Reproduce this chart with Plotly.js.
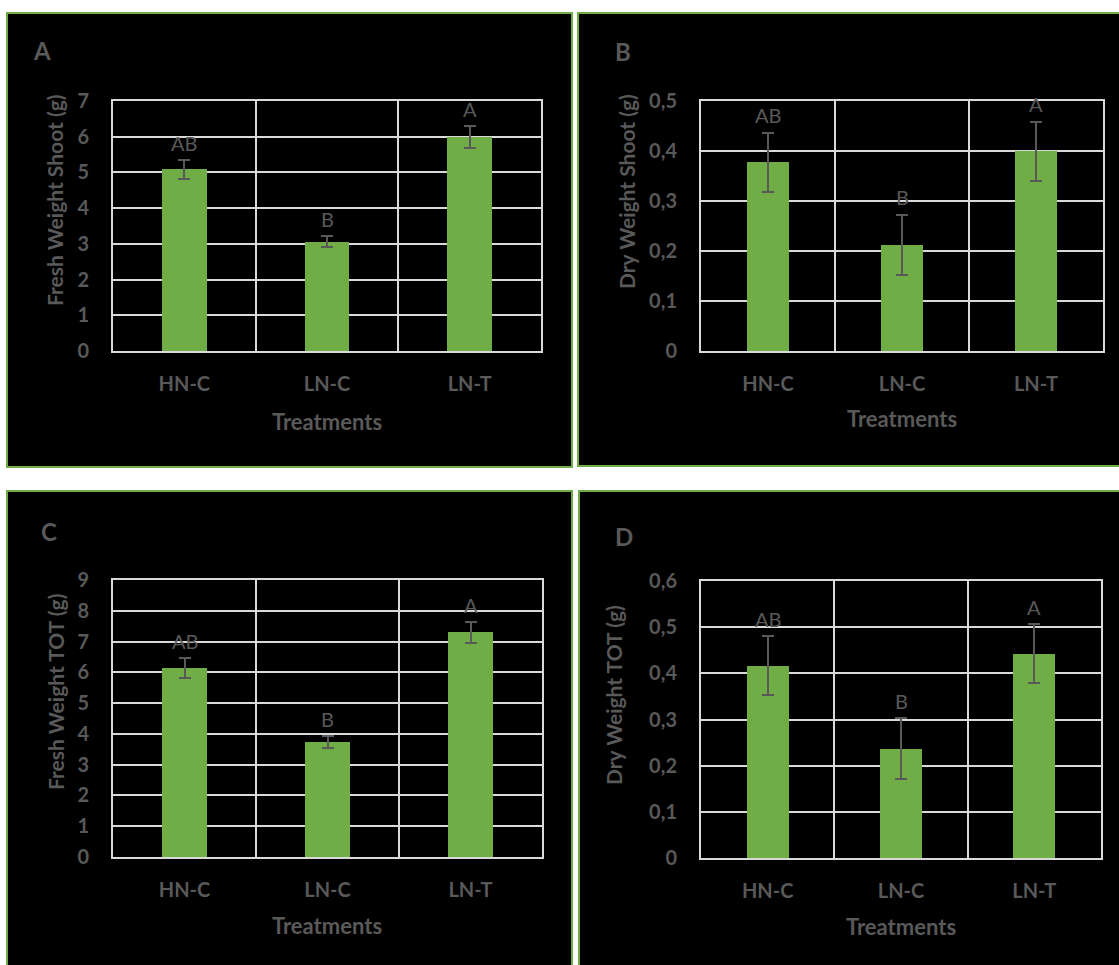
<!DOCTYPE html>
<html>
<head>
<meta charset="utf-8">
<script src="https://cdn.plot.ly/plotly-3.0.1.min.js"></script>
<style>
  html, body { margin: 0; padding: 0; background: #ffffff; }
  #chart { width: 1119px; height: 965px; }
</style>
</head>
<body>
<div id="chart"></div>
<script>
// Treatments and measured means with their error values
const categories = ['HN-C', 'LN-C', 'LN-T'];

const freshShoot    = [5.09, 3.06, 5.99];
const freshShootErr = [0.26, 0.15, 0.31];

const dryShoot      = [0.378, 0.213, 0.400];
const dryShootErr   = [0.059, 0.060, 0.059];

const freshTot      = [6.13, 3.74, 7.30];
const freshTotErr   = [0.32, 0.19, 0.35];

const dryTot        = [0.416, 0.237, 0.442];
const dryTotErr     = [0.064, 0.066, 0.064];

// Significance groups shown above each bar
const groupLetters = ['AB', 'B', 'A'];

const panelLabels = ['A', 'B', 'C', 'D'];
const yTitles = ['Fresh Weight Shoot (g)', 'Dry Weight Shoot (g)', 'Fresh Weight TOT (g)', 'Dry Weight TOT (g)'];
const xTitle = 'Treatments';

// Page geometry (pixels)
const W = 1119, H = 965;
const px = v => v / W;
const py = v => 1 - v / H;

const GREEN = '#70AD47';
const GREY = '#595959';
const GRID = '#D9D9D9';
const FONT = 'Lato, "Open Sans", sans-serif';

const panels = [
  { values: freshShoot, errors: freshShootErr, yMax: 7,   dtick: 1,
    frame: [7, 13, 572, 467],   plot: [113, 101, 541, 351],
    label: [41.5, 50.5], yTitle: [55, 200], xTitle: [327, 421] },
  { values: dryShoot,   errors: dryShootErr,   yMax: 0.5, dtick: 0.1,
    frame: [578, 13, 1130, 466], plot: [701, 101, 1103, 351],
    label: [622.5, 51],  yTitle: [626, 192], xTitle: [902, 419] },
  { values: freshTot,   errors: freshTotErr,   yMax: 9,   dtick: 1,
    frame: [7, 491, 572, 980],  plot: [113, 580, 542, 857],
    label: [48.5, 531],  yTitle: [55, 692], xTitle: [327, 925] },
  { values: dryTot,     errors: dryTotErr,     yMax: 0.6, dtick: 0.1,
    frame: [579, 491, 1130, 980], plot: [701, 581, 1101, 858],
    label: [624, 536.5], yTitle: [613, 695], xTitle: [901, 926] }
];

const data = [];
const shapes = [];
const annotations = [];
const layout = {
  width: W, height: H,
  margin: { l: 0, r: 0, t: 0, b: 0, pad: 0 },
  paper_bgcolor: '#ffffff',
  plot_bgcolor: '#000000',
  showlegend: false,
  separators: ', ',
  font: { family: FONT, color: GREY, size: 20 },
  bargap: 0
};

panels.forEach((p, i) => {
  const n = i === 0 ? '' : String(i + 1);
  const xa = 'x' + n, ya = 'y' + n;

  data.push({
    type: 'bar',
    x: categories,
    y: p.values,
    width: categories.map(() => 0.315),
    marker: { color: GREEN, line: { width: 0 } },
    error_y: { type: 'data', array: p.errors, visible: true,
               color: GREY, thickness: 2, width: 6 },
    xaxis: xa, yaxis: ya,
    hoverinfo: 'x+y'
  });

  const [pl, pt, pr, pb] = p.plot;
  layout['xaxis' + n] = {
    domain: [px(pl), px(pr)],
    anchor: ya,
    type: 'category',
    tickson: 'boundaries',
    ticks: '',
    showgrid: true, gridcolor: GRID, gridwidth: 2,
    showline: true, mirror: true, linecolor: GRID, linewidth: 2,
    zeroline: false,
    ticklabelstandoff: 14,
    tickfont: { family: FONT, size: 20, color: GREY, weight: 'bold' },
    fixedrange: true
  };
  layout['yaxis' + n] = {
    domain: [py(pb), py(pt)],
    anchor: xa,
    range: [0, p.yMax],
    dtick: p.dtick,
    tick0: 0,
    ticks: '',
    showgrid: true, gridcolor: GRID, gridwidth: 2,
    showline: true, mirror: true, linecolor: GRID, linewidth: 2,
    zeroline: false,
    ticklabelstandoff: 18,
    tickfont: { family: FONT, size: 20, color: GREY, weight: 'bold' },
    fixedrange: true
  };

  // dark panel card with green outline
  const [fl, ft, fr, fb] = p.frame;
  shapes.push({
    type: 'rect', xref: 'paper', yref: 'paper', layer: 'below',
    x0: px(fl), x1: px(fr), y0: py(fb), y1: py(ft),
    fillcolor: '#000000', line: { color: GREEN, width: 2 }
  });

  // panel letter
  annotations.push({
    xref: 'paper', yref: 'paper', x: px(p.label[0]), y: py(p.label[1]),
    xanchor: 'center', yanchor: 'middle', showarrow: false,
    text: panelLabels[i],
    font: { family: FONT, size: 24, color: GREY, weight: 'bold' }
  });

  // y axis title
  annotations.push({
    xref: 'paper', yref: 'paper', x: px(p.yTitle[0]), y: py(p.yTitle[1]),
    xanchor: 'center', yanchor: 'middle', showarrow: false, textangle: -90,
    text: yTitles[i],
    font: { family: FONT, size: 21, color: GREY, weight: 'bold' }
  });

  // x axis title
  annotations.push({
    xref: 'paper', yref: 'paper', x: px(p.xTitle[0]), y: py(p.xTitle[1]),
    xanchor: 'center', yanchor: 'middle', showarrow: false,
    text: xTitle,
    font: { family: FONT, size: 22, color: GREY, weight: 'bold' }
  });

  // group letters above each error bar
  categories.forEach((c, k) => {
    annotations.push({
      xref: xa, yref: ya, x: c, y: p.values[k] + p.errors[k],
      xanchor: 'center', yanchor: 'bottom', yshift: 3, showarrow: false,
      text: groupLetters[k],
      font: { family: FONT, size: 20, color: GREY }
    });
  });
});

layout.shapes = shapes;
layout.annotations = annotations;

Plotly.newPlot('chart', data, layout, { displayModeBar: false, staticPlot: true });
</script>
</body>
</html>
